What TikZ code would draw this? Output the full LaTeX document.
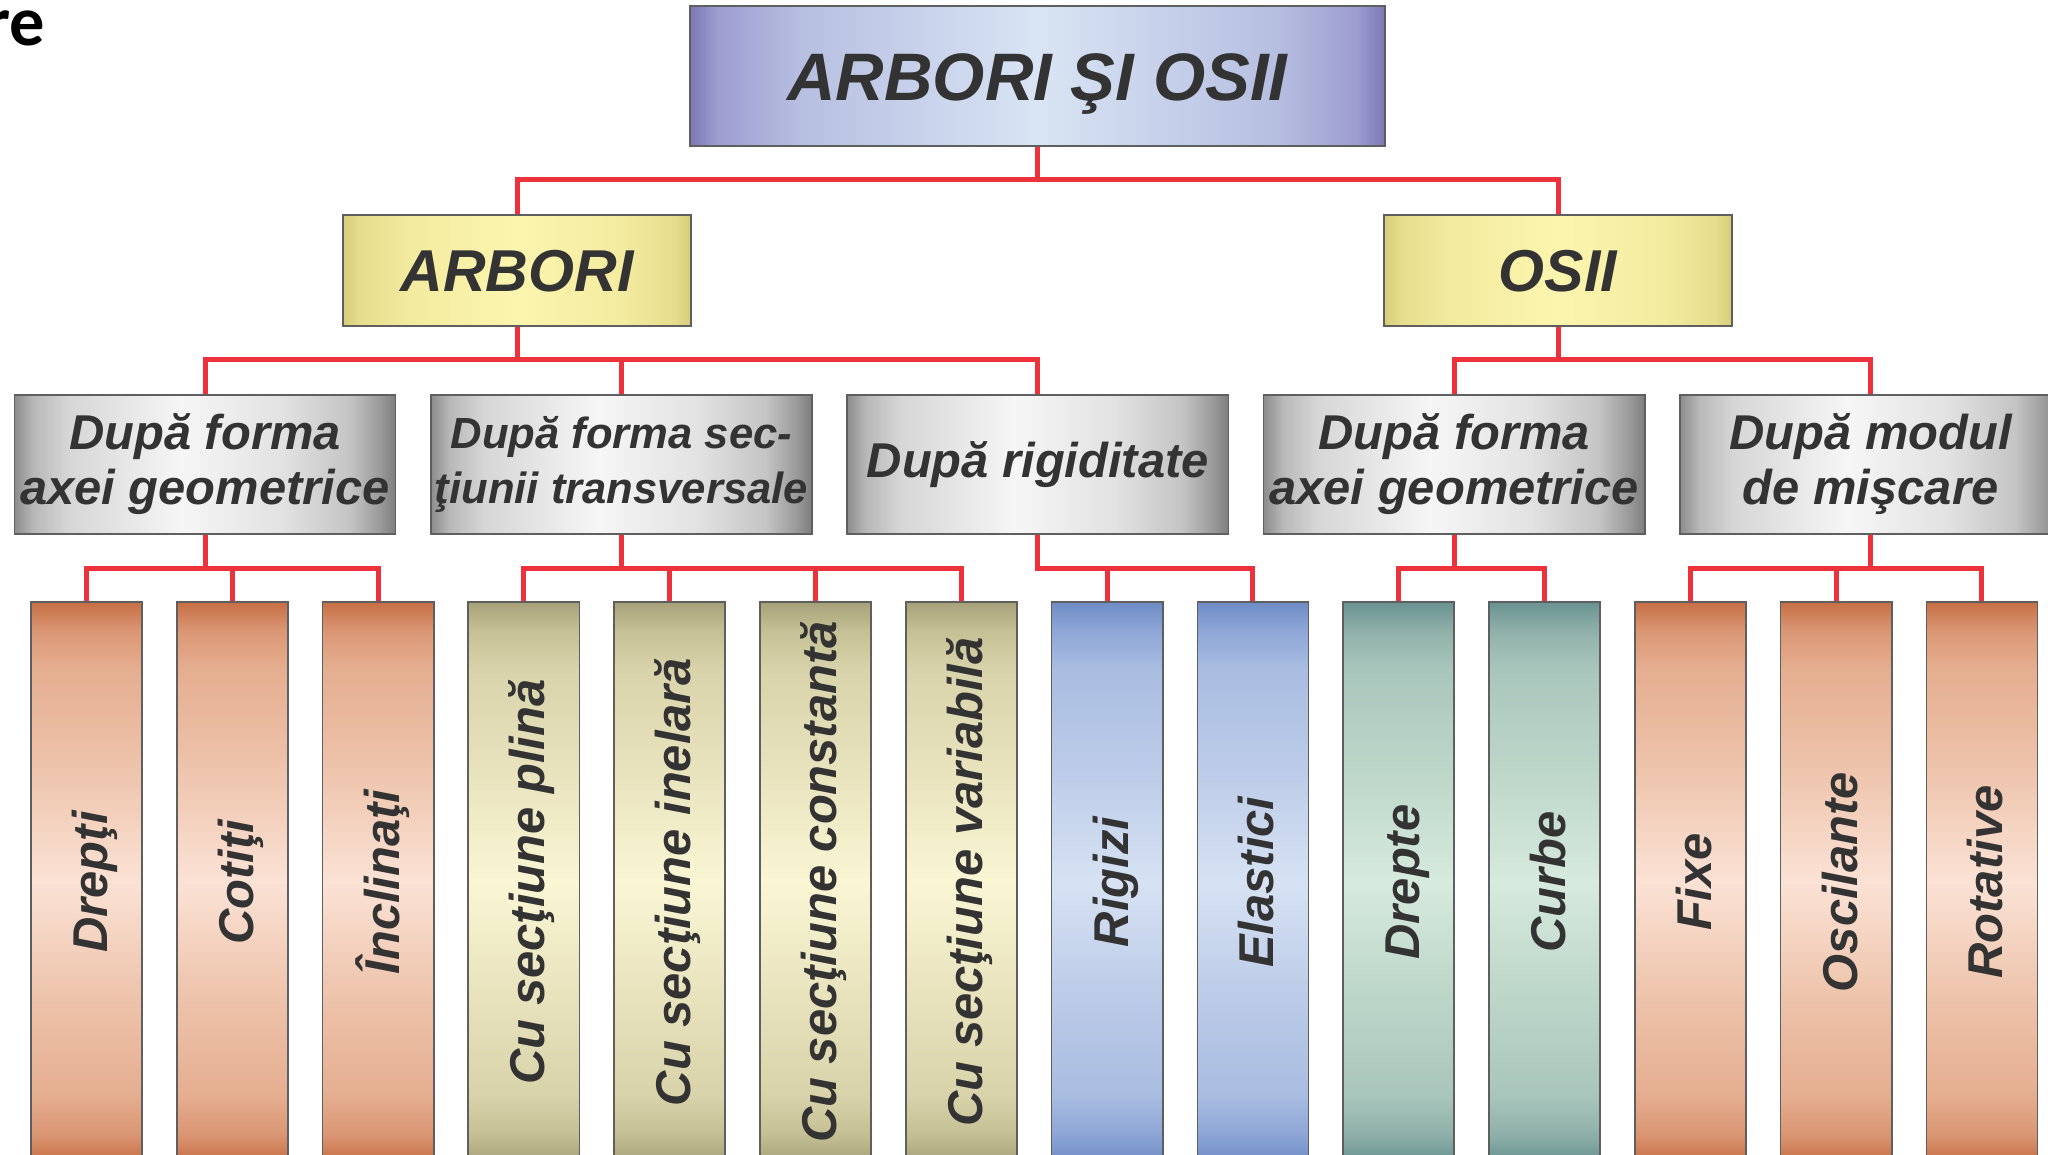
\documentclass[tikz,border=0pt]{standalone}
\usepackage{fontspec}
\setmainfont{Liberation Sans}
\newfontfamily\labelfont{Carlito}
\definecolor{linered}{RGB}{238,50,60}
\definecolor{txtc}{HTML}{333333}
\definecolor{bordc}{HTML}{5F5F5F}
% top box colours
\definecolor{tpA}{HTML}{7B77B5}
\definecolor{tpB}{HTML}{9D9DD0}
\definecolor{tpC}{HTML}{B7BFE1}
\definecolor{tpD}{HTML}{D9E4F4}
% yellow
\definecolor{ylA}{HTML}{D6CC78}
\definecolor{ylB}{HTML}{E6DD8E}
\definecolor{ylC}{HTML}{F3EB9F}
\definecolor{ylD}{HTML}{FCF5AE}
% gray
\definecolor{grA}{HTML}{8C8C8C}
\definecolor{grB}{HTML}{B8B8B8}
\definecolor{grC}{HTML}{D6D6D6}
\definecolor{grD}{HTML}{F6F6F6}
\definecolor{grE}{HTML}{E2E2E2}
\definecolor{grF}{HTML}{C4C4C4}
\definecolor{grG}{HTML}{999999}
\definecolor{grH}{HTML}{7E7E7E}
% orange
\definecolor{orA}{HTML}{C66E44}
\definecolor{orB}{HTML}{DA9673}
\definecolor{orC}{HTML}{E5AE90}
\definecolor{orD}{HTML}{EEC4AC}
\definecolor{orE}{HTML}{FBE2D5}
% olive
\definecolor{olA}{HTML}{A7A17A}
\definecolor{olB}{HTML}{C4BF94}
\definecolor{olC}{HTML}{D8D3AA}
\definecolor{olD}{HTML}{E8E3BD}
\definecolor{olE}{HTML}{FAF6D4}
% blue
\definecolor{blA}{HTML}{6D8BC5}
\definecolor{blB}{HTML}{8EA6D6}
\definecolor{blC}{HTML}{A9BDE1}
\definecolor{blD}{HTML}{BCCBE8}
\definecolor{blE}{HTML}{D6E2F3}
% teal
\definecolor{teA}{HTML}{689290}
\definecolor{teB}{HTML}{8FB0A9}
\definecolor{teC}{HTML}{A9C6BC}
\definecolor{teD}{HTML}{BDD6CA}
\definecolor{teE}{HTML}{D6EADD}

\pgfdeclarehorizontalshading{topsh}{100bp}{color(0bp)=(tpA); color(25bp)=(tpA); color(27bp)=(tpB); color(33bp)=(tpC); color(50bp)=(tpD); color(67bp)=(tpC); color(73bp)=(tpB); color(75bp)=(tpA); color(100bp)=(tpA)}
\pgfdeclarehorizontalshading{ylsh}{100bp}{color(0bp)=(ylA); color(25bp)=(ylA); color(27.5bp)=(ylB); color(35bp)=(ylC); color(50bp)=(ylD); color(65bp)=(ylC); color(72.5bp)=(ylB); color(75bp)=(ylA); color(100bp)=(ylA)}
\pgfdeclarehorizontalshading{grsh}{100bp}{color(0bp)=(grA); color(25bp)=(grA); color(27.5bp)=(grB); color(32bp)=(grC); color(47bp)=(grD); color(60bp)=(grE); color(69bp)=(grF); color(73bp)=(grG); color(75bp)=(grH); color(100bp)=(grH)}
\newcommand\mkvshade[6]{%
\pgfdeclareverticalshading{#1}{100bp}{color(0bp)=(#2); color(25bp)=(#2); color(27.5bp)=(#3); color(31bp)=(#4); color(40bp)=(#5); color(50bp)=(#6); color(60bp)=(#5); color(69bp)=(#4); color(72.5bp)=(#3); color(75bp)=(#2); color(100bp)=(#2)}}
\mkvshade{orsh}{orA}{orB}{orC}{orD}{orE}
\mkvshade{olsh}{olA}{olB}{olC}{olD}{olE}
\mkvshade{blsh}{blA}{blB}{blC}{blD}{blE}
\mkvshade{tesh}{teA}{teB}{teC}{teD}{teE}

\begin{document}
\begin{tikzpicture}[x=0.01cm,y=-0.01cm,
  conn/.style={draw=linered, line width=0.05cm, line join=miter},
  boxcore/.style={draw=bordc, line width=0.5pt, inner sep=0pt, text=txtc},
  topbox/.style={boxcore, shading=topsh, minimum width=6.95cm, minimum height=1.40cm,
    font=\fontsize{19.1}{23}\selectfont\bfseries\itshape, text height=0.48cm, text depth=0pt},
  midbox/.style={boxcore, shading=ylsh, minimum width=3.48cm, minimum height=1.11cm,
    font=\fontsize{16.8}{20}\selectfont\bfseries\itshape, text height=0.42cm, text depth=0pt},
  grbox/.style={boxcore, shading=grsh, minimum width=3.81cm, minimum height=1.39cm,
    align=center, font=\fontsize{13.9}{15.65}\selectfont\bfseries\itshape},
  tallbox/.style={boxcore, minimum width=1.11cm, minimum height=5.60cm},
  orbox/.style={tallbox, shading=orsh},
  olbox/.style={tallbox, shading=olsh},
  blbox/.style={tallbox, shading=blsh},
  tebox/.style={tallbox, shading=tesh},
  talltext/.style={rotate=90, inner sep=0pt, text=txtc,
    font=\fontsize{13.9}{16}\selectfont\bfseries\itshape, text height=0.42cm, text depth=0pt}
]
\useasboundingbox (0,0) rectangle (2048,1154);
\clip (0,0) rectangle (2048,1154);
\fill[white] (0,0) rectangle (2048,1154);

\node[anchor=base east, inner sep=0pt, text=black,
  font=\labelfont\fontsize{20}{24}\selectfont\bfseries] (hdr) at (46,45) {re};

% bus levels
\coordinate (b1) at (0,179);
\coordinate (b2) at (0,359);
\coordinate (b3) at (0,568);

% level 0 and 1
\node[topbox] (top) at (1037.5,76) {ARBORI ŞI OSII};
\node[midbox] (arb) at (517,270.5) {ARBORI};
\node[midbox] (osii) at (1558,270.5) {OSII};

% level 2
\node[grbox] (g1) at (205,464.5) {După forma\\axei geometrice};
\node[grbox, font=\fontsize{12.4}{15.65}\selectfont\bfseries\itshape] (g2) at (621.4,464.5) {După forma sec-\\ţiunii transversale};
\node[grbox] (g3) at (1037.8,464.5) {După rigiditate};
\node[grbox] (g4) at (1454.2,464.5) {După forma\\axei geometrice};
\node[grbox] (g5) at (1870.6,464.5) {După modul\\de mişcare};

% level 3
\node[orbox] (t1) at (86.5,882) {};
\node[orbox] (t2) at (232.3,882) {};
\node[orbox] (t3) at (378.1,882) {};
\node[olbox] (t4) at (523.9,882) {};
\node[olbox] (t5) at (669.7,882) {};
\node[olbox] (t6) at (815.5,882) {};
\node[olbox] (t7) at (961.3,882) {};
\node[blbox] (t8) at (1107.1,882) {};
\node[blbox] (t9) at (1252.9,882) {};
\node[tebox] (t10) at (1398.7,882) {};
\node[tebox] (t11) at (1544.5,882) {};
\node[orbox] (t12) at (1690.3,882) {};
\node[orbox] (t13) at (1836.1,882) {};
\node[orbox] (t14) at (1981.9,882) {};

\node[talltext] (t1l) at (t1.center) {Drepţi};
\node[talltext] (t2l) at (t2.center) {Cotiţi};
\node[talltext] (t3l) at (t3.center) {Înclinaţi};
\node[talltext] (t4l) at (t4.center) {Cu secţiune plină};
\node[talltext] (t5l) at (t5.center) {Cu secţiune inelară};
\node[talltext] (t6l) at (t6.center) {Cu secţiune constantă};
\node[talltext] (t7l) at (t7.center) {Cu secţiune variabilă};
\node[talltext] (t8l) at (t8.center) {Rigizi};
\node[talltext] (t9l) at (t9.center) {Elastici};
\node[talltext] (t10l) at (t10.center) {Drepte};
\node[talltext] (t11l) at (t11.center) {Curbe};
\node[talltext] (t12l) at (t12.center) {Fixe};
\node[talltext] (t13l) at (t13.center) {Oscilante};
\node[talltext] (t14l) at (t14.center) {Rotative};

% connectors level 1
\draw[conn] (top.south) -- (top.south |- b1);
\draw[conn] (arb.north) |- (osii.north |- b1) -- (osii.north);

% connectors level 2
\draw[conn] (arb.south) -- (arb.south |- b2);
\draw[conn] (g1.north) |- (g3.north |- b2) -- (g3.north);
\draw[conn] (g2.north) -- (g2.north |- b2);
\draw[conn] (osii.south) -- (osii.south |- b2);
\draw[conn] (g4.north) |- (g5.north |- b2) -- (g5.north);

% connectors level 3
\draw[conn] (g1.south) -- (g1.south |- b3);
\draw[conn] (t1.north) |- (t3.north |- b3) -- (t3.north);
\draw[conn] (t2.north) -- (t2.north |- b3);

\draw[conn] (g2.south) -- (g2.south |- b3);
\draw[conn] (t4.north) |- (t7.north |- b3) -- (t7.north);
\draw[conn] (t5.north) -- (t5.north |- b3);
\draw[conn] (t6.north) -- (t6.north |- b3);

\draw[conn] (g3.south) |- (t9.north |- b3) -- (t9.north);
\draw[conn] (t8.north) -- (t8.north |- b3);

\draw[conn] (g4.south) -- (g4.south |- b3);
\draw[conn] (t10.north) |- (t11.north |- b3) -- (t11.north);

\draw[conn] (g5.south) -- (g5.south |- b3);
\draw[conn] (t12.north) |- (t14.north |- b3) -- (t14.north);
\draw[conn] (t13.north) -- (t13.north |- b3);
\end{tikzpicture}
\end{document}
